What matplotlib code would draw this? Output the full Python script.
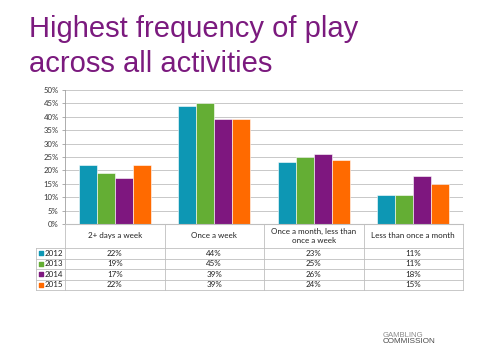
import numpy as np
import matplotlib
matplotlib.use("Agg")
import matplotlib.pyplot as plt

categories = ["2+ days a week", "Once a week", "Once a month, less than\nonce a week",
              "Less than once a month"]
years = ["2012", "2013", "2014", "2015"]
v2012 = [22, 44, 23, 11]
v2013 = [19, 45, 25, 11]
v2014 = [17, 39, 26, 18]
v2015 = [22, 39, 24, 15]
series = [v2012, v2013, v2014, v2015]
colors = ["#0D97B4", "#64AE34", "#7E177F", "#FF6A00"]

W, H = 480, 364
fig = plt.figure(figsize=(W / 100, H / 100), dpi=100)
fig.patch.set_facecolor("white")

def px_axes(x0, y0, x1, y1):
    # pixel box (top-left origin) -> figure axes
    return fig.add_axes([x0 / W, 1 - y1 / H, (x1 - x0) / W, (y1 - y0) / H])

title_lines = ["Highest frequency of play", "across all activities"]
for line, base in zip(title_lines, [37, 72]):
    fig.text(29 / W, 1 - base / H, line, color="#7B1A7E", fontsize=21,
             family="Liberation Sans", ha="left", va="baseline")

# bars
ax = px_axes(65, 90, 463, 224)
x = np.arange(len(categories))
bw = 0.18
for i, (vals, c) in enumerate(zip(series, colors)):
    ax.bar(x + (i - 1.5) * bw, vals, bw, color=c, edgecolor="white", linewidth=0.4,
           zorder=3)
ax.set_xlim(-0.5, len(categories) - 0.5)
ax.set_ylim(0, 50)
ax.set_yticks(np.arange(0, 51, 5))
ax.set_yticklabels([f"{t}%" for t in range(0, 51, 5)])
ax.tick_params(axis="y", labelsize=5.6, length=2.5, color="#A0A0A0", width=0.6,
               pad=2, labelcolor="#333333")
ax.set_xticks([])
for lab in ax.get_yticklabels():
    lab.set_family("Lato")
ax.grid(axis="y", color="#C8C8C8", linewidth=0.7, zorder=0)
for s in ["top", "right", "bottom"]:
    ax.spines[s].set_visible(False)
ax.spines["left"].set_color("#A0A0A0")
ax.spines["left"].set_linewidth(0.6)

# data table below the axis
tab = px_axes(65, 224, 463, 300)
tab.set_xlim(-0.5, len(categories) - 0.5)
tab.set_ylim(76, 0)
tab.axis("off")
lc = "#BFBFBF"
hdr = 24
rh = 10.5
lab_w = 0.29
xl = -0.5 - lab_w
tab.plot([-0.5, len(categories) - 0.5], [0, 0], color=lc, lw=0.8, clip_on=False)
for k in range(len(years) + 1):
    yy = hdr + k * rh
    tab.plot([xl, len(categories) - 0.5], [yy, yy], color=lc, lw=0.6, clip_on=False)
for j in range(len(categories) + 1):
    tab.plot([j - 0.5, j - 0.5], [0, hdr + len(years) * rh], color=lc, lw=0.6,
             clip_on=False)
tab.plot([xl, xl], [hdr, hdr + len(years) * rh], color=lc, lw=0.6, clip_on=False)
fs = 5.8
for j, cat in enumerate(categories):
    tab.text(j, hdr / 2, cat, ha="center", va="center", fontsize=fs,
             family="Lato", color="#222222", linespacing=1.3)
for k, (yr, vals, c) in enumerate(zip(years, series, colors)):
    yc = hdr + (k + 0.5) * rh
    tab.scatter([xl + 0.045], [yc], marker="s", s=5, color=c, clip_on=False)
    tab.text(xl + 0.085, yc, yr, ha="left", va="center", fontsize=fs,
             family="Lato", color="#222222")
    for j, v in enumerate(vals):
        tab.text(j, yc, f"{v}%", ha="center", va="center", fontsize=fs,
                 family="Lato", color="#222222")

# logo text
fig.text(383 / W, 1 - 337 / H, "GAMBLING", color="#8C8C8C", fontsize=5.6,
         family="Liberation Sans", ha="left", va="baseline")
fig.text(383 / W, 1 - 343 / H, "COMMISSION", color="#4A4A4A", fontsize=5.9,
         family="Liberation Sans", ha="left", va="baseline")

fig.savefig("out.png", dpi=100, facecolor="white")
